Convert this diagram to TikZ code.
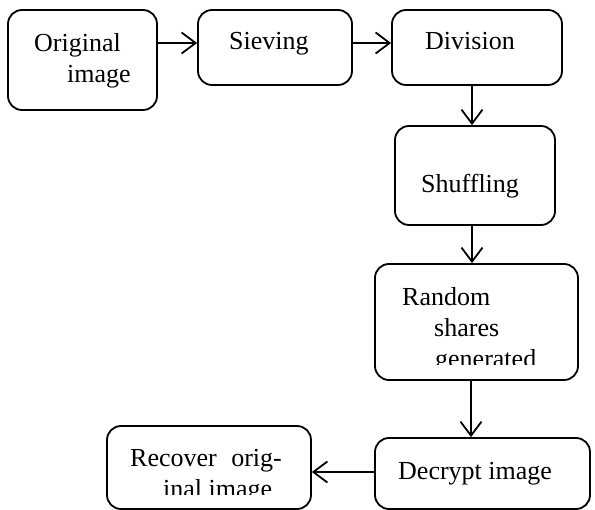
\documentclass[tikz,border=0pt]{standalone}
\usepackage{fontspec}
\setmainfont{Liberation Serif}
\usetikzlibrary{arrows.meta}
\tikzset{
  box/.style={draw, line width=1.8pt, rounded corners=14pt, inner sep=0pt},
  lbl/.style={anchor=base west, inner sep=0pt, font=\fontsize{26}{30}\selectfont},
  arr/.style={line width=1.8pt, -{Straight Barb[length=14pt,width=21pt,line width=1.8pt]}}
}
\begin{document}
\begin{tikzpicture}[x=1pt,y=-1pt]
\useasboundingbox (0,0) rectangle (595,510);

% process boxes
\node[box, minimum width=149pt, minimum height=100pt] (orig) at (82.5,60) {};
\node[box, minimum width=154pt, minimum height=75pt] (siev) at (275,47.5) {};
\node[box, minimum width=170pt, minimum height=75pt] (divi) at (477,47.5) {};
\node[box, minimum width=160pt, minimum height=99pt] (shuf) at (475,175.5) {};
\node[box, minimum width=203pt, minimum height=116pt] (rand) at (476.5,322) {};
\node[box, minimum width=215pt, minimum height=71pt] (decr) at (482.5,473.5) {};
\node[box, minimum width=204pt, minimum height=83pt] (reco) at (209,467.5) {};

% labels
\node[lbl] (t1a) at (34,52) {Original};
\node[lbl] (t1b) at (67,83) {image};
\node[lbl] (t2) at (229,50) {Sieving};
\node[lbl] (t3) at (425,50) {Division};
\node[lbl] (t4) at (421,193) {Shuffling};
\node[lbl] (t5a) at (402,306) {Random};
\node[lbl] (t5b) at (434,337) {shares};
\begin{scope}
  \clip (380,345) rectangle (570,365);
  \node[lbl] (t5c) at (435,368) {generated};
\end{scope}
\node[lbl] (t6) at (398,480) {Decrypt image};
\node[lbl] (t7a) at (130,467) {Recover\hspace{8pt} orig-};
\begin{scope}
  \clip (115,475) rectangle (305,495);
  \node[lbl] (t7b) at (163,498) {inal image};
\end{scope}

% connectors
\draw[arr] (orig.east |- 0,43) -- (siev.west |- 0,43);
\draw[arr] (siev.east |- 0,43) -- (divi.west |- 0,43);
\draw[arr] (divi.south -| 472,0) -- (shuf.north -| 472,0);
\draw[arr] (shuf.south -| 472,0) -- (rand.north -| 472,0);
\draw[arr] (rand.south -| 471,0) -- (decr.north -| 471,0);
\draw[arr] (decr.west |- 0,472) -- (reco.east |- 0,472);
\end{tikzpicture}
\end{document}
